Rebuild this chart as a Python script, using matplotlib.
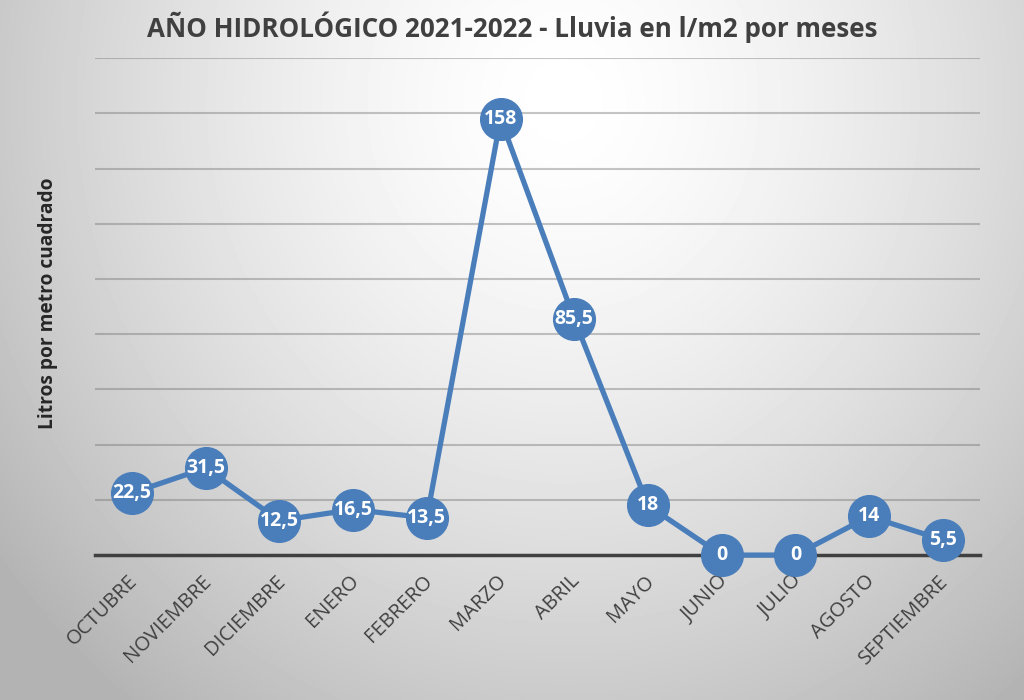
import numpy as np
import matplotlib
matplotlib.use('Agg')
import matplotlib.pyplot as plt
import matplotlib.transforms as mtransforms

# datos
meses = ['OCTUBRE', 'NOVIEMBRE', 'DICIEMBRE', 'ENERO', 'FEBRERO', 'MARZO',
         'ABRIL', 'MAYO', 'JUNIO', 'JULIO', 'AGOSTO', 'SEPTIEMBRE']
lluvia = [22.5, 31.5, 12.5, 16.5, 13.5, 158, 85.5, 18, 0, 0, 14, 5.5]
etiquetas = ['22,5', '31,5', '12,5', '16,5', '13,5', '158', '85,5', '18', '0', '0', '14', '5,5']
titulo = 'AÑO HIDROLÓGICO 2021-2022 - Lluvia en l/m2 por meses'

plt.rcParams['font.family'] = ['Open Sans', 'DejaVu Sans']

fig = plt.figure(figsize=(10.24, 7), dpi=100)

# fondo con degradado radial
fondo = fig.add_axes([0, 0, 1, 1])
xx, yy = np.meshgrid(np.linspace(0, 1, 512), np.linspace(0, 0.7, 350))
d = np.sqrt(((xx - 0.55) / 1.0) ** 2 + ((yy - 0.1) / 1.1) ** 2)
g = 1.0 - 0.30 * np.clip(d / 0.7, 0, 1) ** 1.5
fondo.imshow(g, cmap='gray', vmin=0, vmax=1, extent=[0, 1, 0, 1], aspect='auto', origin='upper')
fondo.axis('off')

ax = fig.add_axes([0.0928, 0.207, 0.864, 0.71])
ax.patch.set_alpha(0)
x = np.arange(len(meses))
ax.set_xlim(-0.5, len(meses) - 0.5)
ax.set_ylim(0, 180)
ax.set_yticks(np.arange(20, 181, 20))
ax.yaxis.grid(True, color='#6f6f6f', alpha=0.4, lw=1.5)
ax.set_axisbelow(True)
for s in ['top', 'right', 'left']:
    ax.spines[s].set_visible(False)
ax.spines['bottom'].set_color('#404040')
ax.spines['bottom'].set_linewidth(2.5)
ax.tick_params(axis='y', left=False, labelleft=False)
ax.tick_params(axis='x', bottom=False, pad=8)
ax.set_xticks(x)
ax.set_xticklabels(meses, rotation=45, ha='right', rotation_mode='anchor',
                   fontsize=14.5, color='#404040')
desplaza = mtransforms.ScaledTranslation(-3 / 72, 0, fig.dpi_scale_trans)
for lab in ax.get_xticklabels():
    lab.set_transform(lab.get_transform() + desplaza)

ax.plot(x, lluvia, '-o', color='#4a7ebb', lw=3.8, ms=30, clip_on=False, zorder=3)
for xi, yi, t in zip(x, lluvia, etiquetas):
    ax.text(xi, yi, t, ha='center', va='center', color='white',
            fontsize=14, fontweight='bold', zorder=4)

fig.text(0.5, 0.961, titulo, ha='center', va='center', fontsize=18.7,
         fontweight='bold', color='#404040')
fig.text(0.047, 0.567, 'Litros por metro cuadrado', rotation=90, ha='center',
         va='center', fontsize=13.8, fontweight='bold', color='#262626')

fig.savefig('out.png', dpi=100)
